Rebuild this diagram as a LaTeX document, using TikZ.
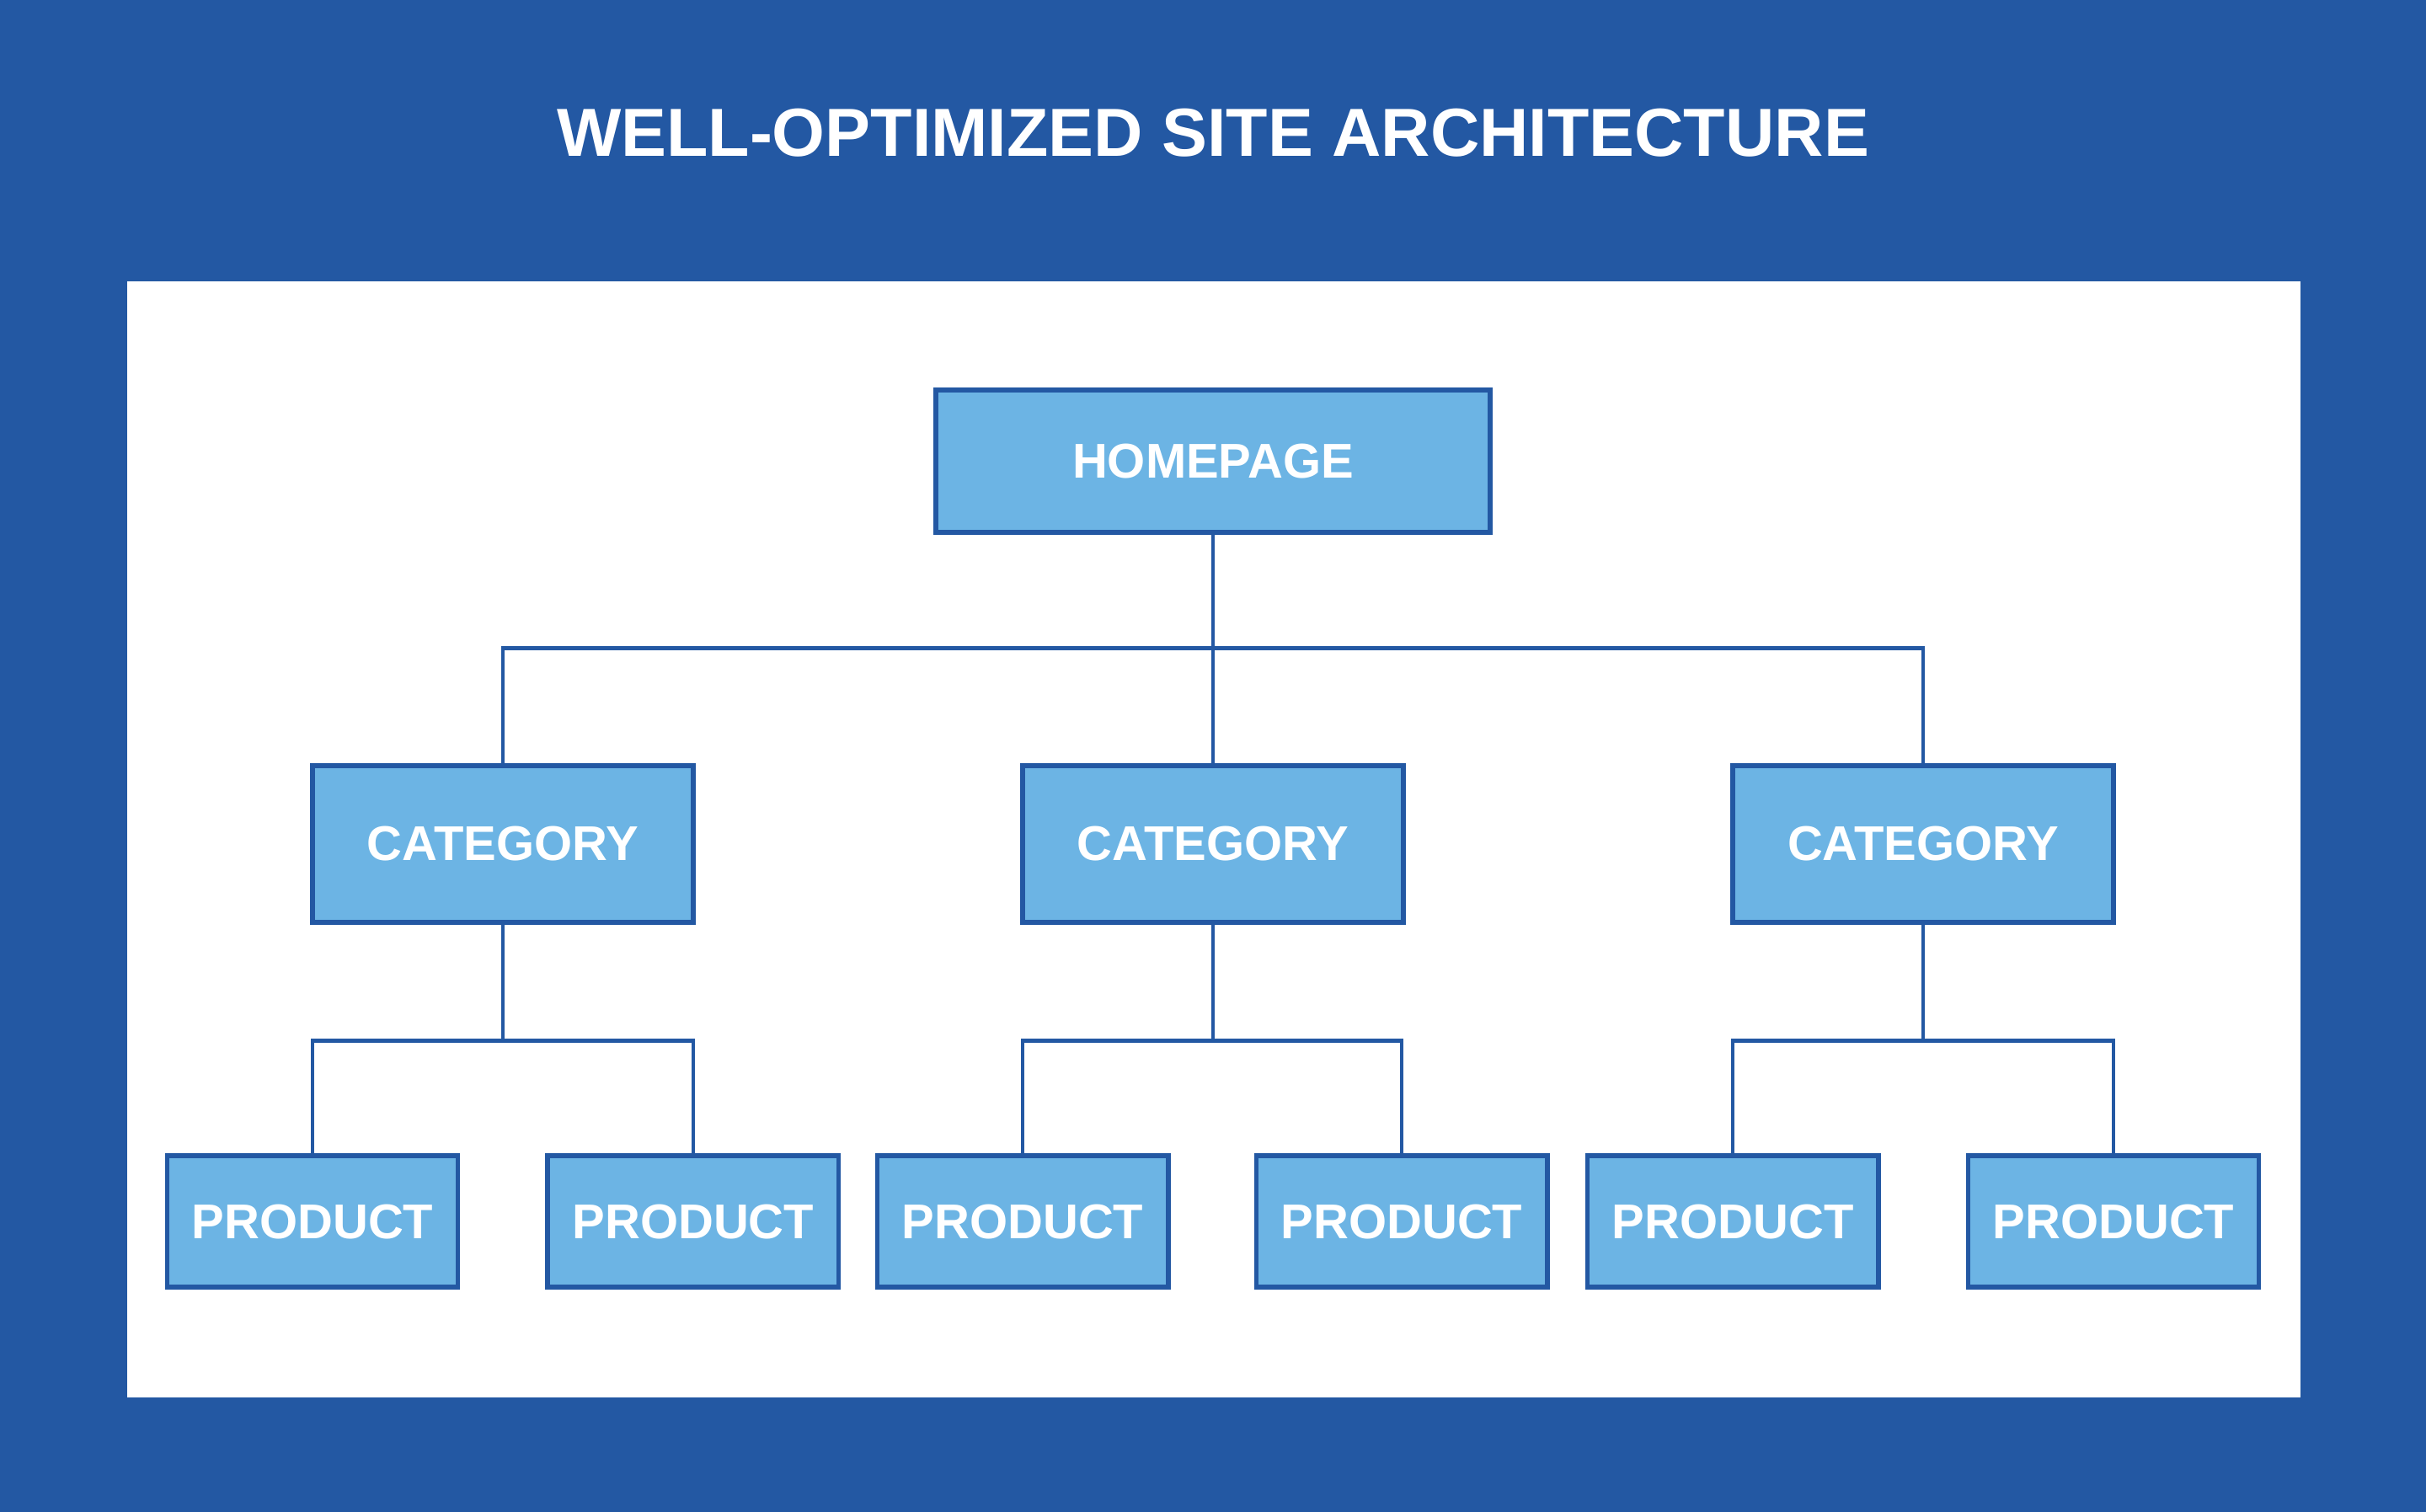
\documentclass[tikz,border=0pt]{standalone}
\usepackage{fontspec}
\setmainfont{Liberation Sans}
\usetikzlibrary{positioning}
\definecolor{darkblue}{HTML}{2358A3}
\definecolor{lightblue}{HTML}{6CB4E4}
\tikzset{
  page/.style={rectangle,draw=darkblue,fill=lightblue,line width=1.6pt,text=white,font=\bfseries\fontsize{16.5}{18}\selectfont,inner sep=0pt},
  link/.style={draw=darkblue,line width=1.3pt}
}
\begin{document}
\begin{tikzpicture}[x=0.018367cm,y=-0.018367cm]
\fill[darkblue] (0,0) rectangle (1568,977);
\useasboundingbox (0,0) rectangle (1568,977);
\fill[white] (82,182) rectangle (1487,903);
\node[text=white,font=\bfseries\fontsize{23}{26}\selectfont](title) at (784,86){WELL-OPTIMIZED SITE ARCHITECTURE};
\node[page,minimum width=358*0.018367cm,minimum height=92*0.018367cm](home) at (784,298){HOMEPAGE};
\node[page,minimum width=246*0.018367cm,minimum height=101*0.018367cm](c1) at (325,545.5){CATEGORY};
\node[page,minimum width=246*0.018367cm,minimum height=101*0.018367cm](c2) at (784,545.5){CATEGORY};
\node[page,minimum width=246*0.018367cm,minimum height=101*0.018367cm](c3) at (1243,545.5){CATEGORY};
\foreach \n/\x in {p1/202,p2/448,p3/661,p4/906,p5/1120,p6/1366}
  \node[page,minimum width=188*0.018367cm,minimum height=85*0.018367cm](\n) at (\x,789.5){PRODUCT};
% tree links
\coordinate (hj) at (784,419);
\draw[link] (home.south) -- (hj);
\draw[link] (c1.north) |- (hj) -| (c3.north);
\draw[link] (hj) -- (c2.north);
\foreach \c/\a/\b in {c1/p1/p2,c2/p3/p4,c3/p5/p6}{
  \coordinate (\c j) at ([yshift=-75*0.018367cm]\c.south);
  \draw[link] (\c.south) -- (\c j);
  \draw[link] (\a.north) |- (\c j) -| (\b.north);
}
\end{tikzpicture}
\end{document}
